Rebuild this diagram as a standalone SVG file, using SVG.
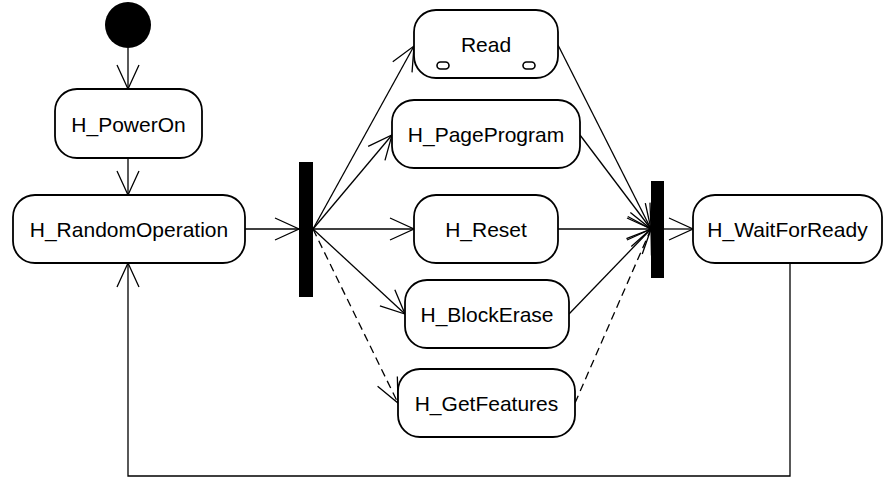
<svg xmlns="http://www.w3.org/2000/svg" width="883" height="477" viewBox="0 0 883 477">
  <style>
    .state { fill: #ffffff; stroke: #000000; stroke-width: 1.8; }
    .label { font-family: "Liberation Sans", Arial, sans-serif; font-size: 21px; fill: #000000; text-anchor: middle; }
    .bar { fill: #000000; }
    .flow { fill: none; stroke: #000000; stroke-width: 1.3; marker-end: url(#open); }
    .plain { fill: none; stroke: #000000; stroke-width: 1.3; }
    .dashed { stroke-dasharray: 8 5; }
    .sub { fill: #ffffff; stroke: #000000; stroke-width: 1.6; }
  </style>
  <defs>
    <marker id="open" markerUnits="userSpaceOnUse" orient="auto" refX="0" refY="0" markerWidth="30" markerHeight="30" overflow="visible">
      <path d="M-24,-11 L0,0 L-24,11" fill="none" stroke="#000000" stroke-width="1.3" stroke-dasharray="none"/>
    </marker>
  </defs>

  <rect width="883" height="477" fill="#ffffff"/>

  <g id="connectors">
    <line class="flow" x1="128" y1="48" x2="128" y2="89"/>
    <line class="flow" x1="128" y1="158" x2="128" y2="195"/>
    <line class="flow" x1="245" y1="229" x2="299" y2="229"/>
    <!-- fork outputs -->
    <line class="flow" x1="313" y1="229" x2="414" y2="46"/>
    <line class="flow" x1="313" y1="229" x2="392" y2="135"/>
    <line class="flow" x1="313" y1="229" x2="414" y2="229"/>
    <line class="flow" x1="313" y1="229" x2="405" y2="314"/>
    <line class="flow dashed" x1="313" y1="229" x2="398" y2="403"/>
    <!-- join inputs -->
    <line class="flow" x1="558" y1="45" x2="651" y2="229"/>
    <line class="flow" x1="580" y1="135" x2="651" y2="229"/>
    <line class="flow" x1="558" y1="229" x2="651" y2="229"/>
    <line class="flow" x1="569" y1="314" x2="651" y2="229"/>
    <line class="flow dashed" x1="575" y1="403" x2="651" y2="229"/>
    <line class="flow" x1="664" y1="229" x2="693" y2="229"/>
    <!-- loop back -->
    <polyline class="flow" points="790,263 790,476 128,476 128,263"/>
  </g>

  <g id="initial">
    <circle cx="128" cy="25" r="23" fill="#000000"/>
  </g>

  <g id="h-poweron">
    <rect class="state" x="55" y="89" width="147" height="69" rx="22" ry="22"/>
    <text class="label" x="128.5" y="132">H_PowerOn</text>
  </g>

  <g id="h-randomoperation">
    <rect class="state" x="13" y="195" width="232" height="68" rx="22" ry="22"/>
    <text class="label" x="129" y="237">H_RandomOperation</text>
  </g>

  <g id="fork">
    <rect class="bar" x="299" y="162" width="14" height="135"/>
  </g>

  <g id="read">
    <rect class="state" x="414" y="10" width="144" height="68" rx="22" ry="22"/>
    <text class="label" x="486" y="52">Read</text>
    <rect class="sub" x="437" y="62" width="12" height="7" rx="3.5" ry="3.5"/>
    <rect class="sub" x="523" y="62" width="12" height="7" rx="3.5" ry="3.5"/>
  </g>

  <g id="h-pageprogram">
    <rect class="state" x="392" y="100" width="188" height="68" rx="22" ry="22"/>
    <text class="label" x="486" y="142">H_PageProgram</text>
  </g>

  <g id="h-reset">
    <rect class="state" x="414" y="195" width="144" height="68" rx="22" ry="22"/>
    <text class="label" x="486" y="237">H_Reset</text>
  </g>

  <g id="h-blockerase">
    <rect class="state" x="405" y="280" width="164" height="68" rx="22" ry="22"/>
    <text class="label" x="487" y="322">H_BlockErase</text>
  </g>

  <g id="h-getfeatures">
    <rect class="state" x="398" y="369" width="177" height="68" rx="22" ry="22"/>
    <text class="label" x="486.5" y="411">H_GetFeatures</text>
  </g>

  <g id="join">
    <rect class="bar" x="651" y="181" width="13" height="97"/>
  </g>

  <g id="h-waitforready">
    <rect class="state" x="693" y="195" width="189" height="68" rx="22" ry="22"/>
    <text class="label" x="787.5" y="237">H_WaitForReady</text>
  </g>
</svg>
